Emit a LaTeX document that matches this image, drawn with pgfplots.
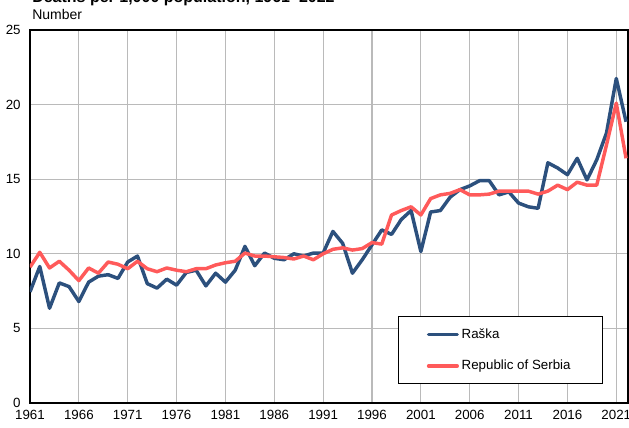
\documentclass[border=0pt]{standalone}
\usepackage{pgfplots}
\pgfplotsset{compat=1.18}
\usepackage{fontspec}
\setmainfont{Liberation Sans}
\definecolor{raska}{HTML}{2C507D}
\definecolor{serbia}{HTML}{FF5A5A}
\begin{document}
\begin{tikzpicture}
\begin{axis}[name=ax, at={(0,0)}, anchor=south west,
  scale only axis, width=448.5pt, height=279.75pt,
  xmin=1961, xmax=2022.2, ymin=0, ymax=25,
  xtick={1961,1966,...,2021}, ytick={0,5,...,25},
  /pgf/number format/assume math mode=true,
  /pgf/number format/set thousands separator={},
  ticklabel style={font=\fontsize{10}{12}\selectfont},
  xticklabel style={yshift=-1.5pt},
  yticklabel style={xshift=-3.5pt},
  major tick length=0pt,
  grid=major,
  major grid style={color=black!27, line width=0.8pt},
  axis line style={line width=1.1pt, black},
  legend style={at={(0.615,0.233)}, anchor=north west, draw=black, line width=0.6pt,
    inner xsep=21.5pt, inner ysep=7pt, row sep=11pt,
    font=\fontsize{10}{12}\selectfont,
    nodes={inner sep=2pt}},
  legend cell align=left,
  legend image code/.code={\draw[#1, line width=2.6pt, line cap=round] (0pt,0pt) -- (21.5pt,0pt);},
]
\addplot[raska, line width=2.6pt, line join=round] coordinates {
(1961,7.45)(1962,9.15)(1963,6.35)(1964,8.05)(1965,7.8)(1966,6.8)(1967,8.1)(1968,8.5)(1969,8.6)(1970,8.35)
(1971,9.45)(1972,9.85)(1973,8.0)(1974,7.7)(1975,8.3)(1976,7.9)(1977,8.75)(1978,8.9)(1979,7.85)(1980,8.7)
(1981,8.1)(1982,8.9)(1983,10.5)(1984,9.2)(1985,10.05)(1986,9.7)(1987,9.6)(1988,10.0)(1989,9.85)(1990,10.05)
(1991,10.05)(1992,11.5)(1993,10.7)(1994,8.7)(1995,9.6)(1996,10.6)(1997,11.6)(1998,11.3)(1999,12.3)(2000,12.9)
(2001,10.15)(2002,12.8)(2003,12.9)(2004,13.8)(2005,14.3)(2006,14.55)(2007,14.9)(2008,14.9)(2009,13.95)(2010,14.15)
(2011,13.4)(2012,13.15)(2013,13.05)(2014,16.1)(2015,15.75)(2016,15.3)(2017,16.4)(2018,14.95)(2019,16.3)(2020,18.1)
(2021,21.75)(2022,18.85)
};
\addlegendentry{Raška}
\addplot[serbia, line width=2.6pt, line join=round] coordinates {
(1961,9.1)(1962,10.1)(1963,9.05)(1964,9.5)(1965,8.9)(1966,8.2)(1967,9.05)(1968,8.7)(1969,9.45)(1970,9.3)
(1971,9.0)(1972,9.5)(1973,9.0)(1974,8.8)(1975,9.05)(1976,8.9)(1977,8.8)(1978,9.0)(1979,9.0)(1980,9.25)
(1981,9.4)(1982,9.5)(1983,10.05)(1984,9.85)(1985,9.85)(1986,9.8)(1987,9.75)(1988,9.65)(1989,9.85)(1990,9.6)
(1991,10.0)(1992,10.3)(1993,10.4)(1994,10.25)(1995,10.35)(1996,10.75)(1997,10.65)(1998,12.6)(1999,12.9)(2000,13.15)
(2001,12.6)(2002,13.7)(2003,13.95)(2004,14.05)(2005,14.3)(2006,13.95)(2007,13.95)(2008,14.0)(2009,14.2)(2010,14.2)
(2011,14.2)(2012,14.2)(2013,14.0)(2014,14.2)(2015,14.6)(2016,14.3)(2017,14.8)(2018,14.6)(2019,14.6)(2020,17.3)
(2021,20.1)(2022,16.4)
};
\addlegendentry{Republic of Serbia}
\end{axis}
\node[anchor=base west, inner sep=0pt, font=\fontsize{12}{14}\selectfont\bfseries] at ([shift={(1.5pt,20.25pt)}]ax.north west) {Deaths per 1,000 population, 1961–2022};
\node[anchor=base west, inner sep=0pt, font=\fontsize{10.5}{12}\selectfont] at ([shift={(1.5pt,7.5pt)}]ax.north west) {Number};
\pgfresetboundingbox
\path[use as bounding box] ([shift={(-22.5pt,-18.75pt)}]ax.south west) rectangle ([shift={(0.75pt,22.5pt)}]ax.north east);
\end{tikzpicture}
\end{document}
